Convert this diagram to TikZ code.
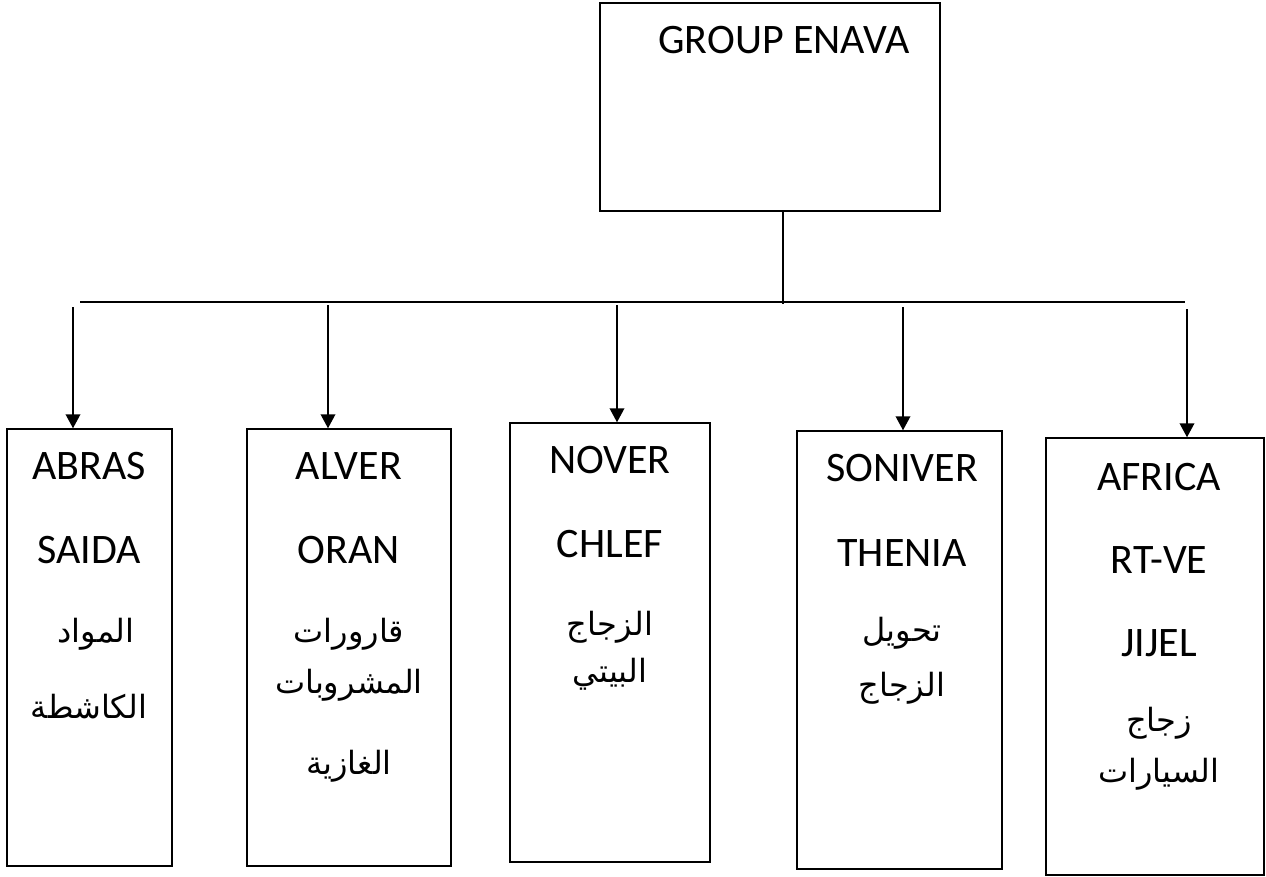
\documentclass[tikz,border=0pt]{standalone}
\usepackage{fontspec}
\setmainfont{Carlito}
\newfontfamily\arabicfont[Script=Arabic]{DejaVu Sans}
\TeXXeTstate=1
\usetikzlibrary{arrows.meta,fit}
\begin{document}
\begin{tikzpicture}[x=0.75pt,y=-0.75pt,
  box/.style={draw,line width=1.1pt,inner sep=0pt},
  lbl/.style={inner sep=0pt,font=\fontsize{31.5}{36}\selectfont},
  ar/.style={inner sep=0pt,font=\fontsize{24}{30}\selectfont\arabicfont},
  conn/.style={line width=1.1pt},
  arr/.style={line width=1.1pt,-{Triangle[length=10.5pt,width=11pt]}}]
\useasboundingbox (0,0) rectangle (1266,876);
\fill[white] (0,0) rectangle (1266,876);
% top box
\node[box,fit={(600,3) (940,211)}] (top) {};
\node[lbl] (ttop) at (784,40) {GROUP ENAVA};
% bus
\coordinate (busL) at (80,302);
\coordinate (busR) at (1185,302);
\coordinate (busM) at (783,304);
\draw[conn] (top.south -| busM) -- (busM);
\draw[conn] (busL) -- (busR);
% boxes
\node[box,fit={(7,429) (172,866)}] (b1) {};
\node[box,fit={(247,429) (451,866)}] (b2) {};
\node[box,fit={(510,423) (710,862)}] (b3) {};
\node[box,fit={(797,431) (1002,869)}] (b4) {};
\node[box,fit={(1046,438) (1264,875)}] (b5) {};
% arrows
\coordinate (a1) at (73,307);
\coordinate (a2) at (328,305);
\coordinate (a3) at (617,305);
\coordinate (a4) at (903,307);
\coordinate (a5) at (1187,309);
\draw[arr] (a1) -- (a1 |- b1.north);
\draw[arr] (a2) -- (a2 |- b2.north);
\draw[arr] (a3) -- (a3 |- b3.north);
\draw[arr] (a4) -- (a4 |- b4.north);
\draw[arr] (a5) -- (a5 |- b5.north);
% texts box1
\node[lbl] (t1a) at (89,466) {ABRAS};
\node[lbl] (t1b) at (89,550) {SAIDA};
\node[ar] (t1c) at (96,634) {\beginR المواد\endR};
\node[ar] (t1d) at (89,707) {\beginR الكاشطة\endR};
% box2
\node[lbl] (t2a) at (349,466) {ALVER};
\node[lbl] (t2b) at (349,550) {ORAN};
\node[ar] (t2c) at (349,634) {\beginR قارورات\endR};
\node[ar] (t2d) at (349,685) {\beginR المشروبات\endR};
\node[ar] (t2e) at (349,766) {\beginR الغازية\endR};
% box3
\node[lbl] (t3a) at (610,460) {NOVER};
\node[lbl] (t3b) at (610,544) {CHLEF};
\node[ar] (t3c) at (610,627) {\beginR الزجاج\endR};
\node[ar] (t3d) at (610,674) {\beginR البيتي\endR};
% box4
\node[lbl] (t4a) at (902,468) {SONIVER};
\node[lbl] (t4b) at (902,553) {THENIA};
\node[ar] (t4c) at (902,633) {\beginR تحويل\endR};
\node[ar] (t4d) at (902,688) {\beginR الزجاج\endR};
% box5
\node[lbl] (t5a) at (1159,477) {AFRICA};
\node[lbl] (t5b) at (1159,560) {RT-VE};
\node[lbl] (t5c) at (1159,643) {JIJEL};
\node[ar] (t5d) at (1159,723) {\beginR زجاج\endR};
\node[ar] (t5e) at (1159,774) {\beginR السيارات\endR};
\end{tikzpicture}
\end{document}
